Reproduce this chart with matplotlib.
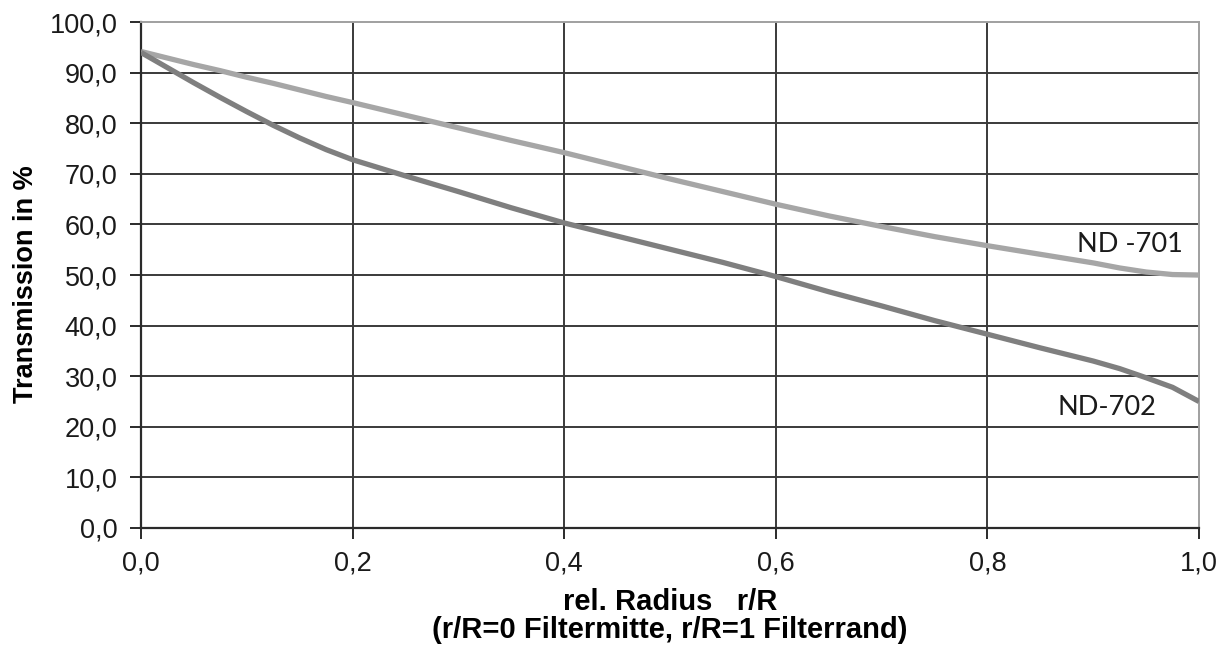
import matplotlib
matplotlib.use("Agg")
import matplotlib.pyplot as plt
from matplotlib.ticker import FuncFormatter

r = [0.0, 0.025, 0.05, 0.075, 0.1, 0.125, 0.15, 0.175, 0.2, 0.25, 0.3, 0.35, 0.4, 0.45, 0.5, 0.55,
     0.6, 0.65, 0.7, 0.75, 0.8, 0.85, 0.9, 0.925, 0.95, 0.975, 1.0]
nd701 = [94.2, 92.9, 91.6, 90.4, 89.1, 87.9, 86.6, 85.3, 84.1, 81.6, 79.1, 76.6, 74.2, 71.6, 69.0, 66.5,
         64.0, 61.7, 59.6, 57.6, 55.8, 54.1, 52.4, 51.4, 50.6, 50.1, 50.0]
nd702 = [94.0, 91.0, 88.0, 85.1, 82.3, 79.6, 77.1, 74.8, 72.8, 69.6, 66.5, 63.3, 60.3, 57.7, 55.1, 52.5,
         49.7, 46.7, 43.9, 41.0, 38.3, 35.6, 33.0, 31.5, 29.7, 27.8, 25.0]
x_ticks = [0.0, 0.2, 0.4, 0.6, 0.8, 1.0]
y_ticks = [0, 10, 20, 30, 40, 50, 60, 70, 80, 90, 100]

fig = plt.figure(figsize=(12.26, 6.51), dpi=100)
ax = fig.add_axes([0.115, 0.189, 0.863, 0.777])
ax.set_xlim(0, 1)
ax.set_ylim(0, 100)

grid_c = "#3a3a3a"
for yv in y_ticks[1:-1]:
    ax.axhline(yv, color=grid_c, lw=1.4, zorder=1)
for xv in x_ticks[1:-1]:
    ax.axvline(xv, color=grid_c, lw=1.4, zorder=1)

ax.plot(r, nd701, color="#a6a6a6", lw=3.8, zorder=3, solid_capstyle="butt")
ax.plot(r, nd702, color="#7f7f7f", lw=3.8, zorder=3, solid_capstyle="butt")

ax.text(0.935, 56.0, "ND -701", fontsize=19.5, family="Lato", color="#1a1a1a",
        ha="center", va="center")
ax.text(0.913, 23.9, "ND-702", fontsize=19.5, family="Lato", color="#1a1a1a",
        ha="center", va="center")

for s in ["top", "right"]:
    ax.spines[s].set_color("#a0a0a0")
    ax.spines[s].set_linewidth(1.4)
for s in ["left", "bottom"]:
    ax.spines[s].set_color("#2a2a2a")
    ax.spines[s].set_linewidth(1.6)

ax.set_xticks(x_ticks)
ax.set_yticks(y_ticks)
fmt = lambda v, p: (f"{v:.1f}").replace(".", ",")
ax.xaxis.set_major_formatter(FuncFormatter(fmt))
ax.yaxis.set_major_formatter(FuncFormatter(fmt))
ax.tick_params(axis="both", direction="out", length=8, width=1.4, color="#2a2a2a",
               labelsize=19.5, labelcolor="#1a1a1a")
ax.tick_params(axis="y", pad=9)
ax.tick_params(axis="x", pad=8)
for lab in ax.get_xticklabels() + ax.get_yticklabels():
    lab.set_family("Liberation Sans")

ax.set_xlabel("rel. Radius   r/R\n(r/R=0 Filtermitte, r/R=1 Filterrand)",
              fontsize=21, fontweight="bold", family="Liberation Sans",
              linespacing=1.03)
ax.xaxis.set_label_coords(0.5, -0.118)
ax.set_ylabel("Transmission in %", fontsize=19.5, fontweight="bold",
              family="Liberation Sans")
ax.yaxis.set_label_coords(-0.096, 0.482)

fig.savefig("out.png", dpi=100)
